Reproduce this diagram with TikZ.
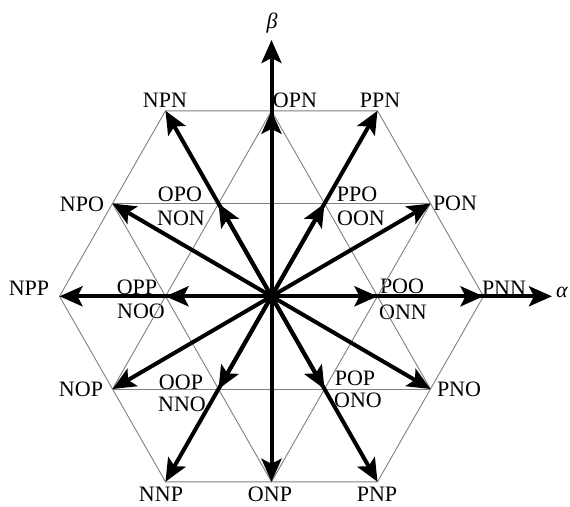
\documentclass[tikz,border=0pt]{standalone}
\usepackage{fontspec}
\setmainfont{Liberation Serif}
\usetikzlibrary{arrows.meta}
\definecolor{gridgray}{RGB}{128,128,128}
\begin{document}
\begin{tikzpicture}[x=1pt,y=-1pt,
  gridline/.style={draw=gridgray, line width=0.9pt},
  vec/.style={line width=4pt, -{Stealth[length=23pt,width=20pt,inset=5pt]}},
  lab/.style={font=\fontsize{22}{22}\selectfont, inner sep=0pt}]
\useasboundingbox (0,0) rectangle (570,506);
% points
\coordinate (O) at (271.5,296.3);
\coordinate (PNN) at (483.5,296.3);
\coordinate (PPN) at (377.5,110.8);
\coordinate (NPN) at (165.5,110.8);
\coordinate (NPP) at (59.5,296.3);
\coordinate (NNP) at (165.5,481.8);
\coordinate (PNP) at (377.5,481.8);
\coordinate (PON) at (430.5,203.55);
\coordinate (OPN) at (271.5,110.8);
\coordinate (NPO) at (112.5,203.55);
\coordinate (NOP) at (112.5,389.05);
\coordinate (ONP) at (271.5,481.8);
\coordinate (PNO) at (430.5,389.05);
\coordinate (POO) at (377.5,296.3);
\coordinate (PPO) at (324.5,203.55);
\coordinate (OPO) at (218.5,203.55);
\coordinate (OPP) at (165.5,296.3);
\coordinate (OOP) at (218.5,389.05);
\coordinate (POP) at (324.5,389.05);
\coordinate (Atip) at (552,296.3);
\coordinate (Btip) at (271.5,40);
% labels
\node[lab] (lb) at (272,23) {\itshape β};
\node[lab] (la) at (562,292) {\itshape α};
\node[lab] (lNPN) at (165,100) {NPN};
\node[lab] (lOPN) at (295,100) {OPN};
\node[lab] (lPPN) at (380,100) {PPN};
\node[lab] (lNPO) at (82,204) {NPO};
\node[lab] (lOPO) at (180,194) {OPO};
\node[lab] (lNON) at (181,218) {NON};
\node[lab] (lPPO) at (357,194) {PPO};
\node[lab] (lOON) at (361,218) {OON};
\node[lab] (lPON) at (455,203) {PON};
\node[lab] (lNPP) at (29,288) {NPP};
\node[lab] (lOPP) at (137,287) {OPP};
\node[lab] (lPOO) at (402,286) {POO};
\node[lab] (lPNN) at (504,288) {PNN};
\node[lab] (lNOO) at (141,311) {NOO};
\node[lab] (lONN) at (403,312) {ONN};
\node[lab] (lNOP) at (81,389) {NOP};
\node[lab] (lOOP) at (181,382) {OOP};
\node[lab] (lNNO) at (182,404) {NNO};
\node[lab] (lPOP) at (355,378) {POP};
\node[lab] (lONO) at (358,400) {ONO};
\node[lab] (lPNO) at (459,389) {PNO};
\node[lab] (lNNP) at (161,494.5) {NNP};
\node[lab] (lONP) at (270,494.5) {ONP};
\node[lab] (lPNP) at (377,494.5) {PNP};
% grid
\draw[gridline] (PNN) -- (PPN) -- (NPN) -- (NPP) -- (NNP) -- (PNP) -- cycle;
\draw[gridline] (NPO) -- (PON);
\draw[gridline] (NOP) -- (PNO);
\draw[gridline] (OPN) -- (PNO);
\draw[gridline] (NPO) -- (ONP);
\draw[gridline] (OPN) -- (NOP);
\draw[gridline] (PON) -- (ONP);
\draw[gridline] (NPP) -- (PNN);
\draw[gridline] (NPN) -- (PNP);
\draw[gridline] (PPN) -- (NNP);
% axes
\draw[vec] (O) -- (Atip);
\draw[vec] (O) -- (Btip);
% vectors
\foreach \p in {PNN,PPN,NPN,NPP,NNP,PNP,PON,OPN,NPO,NOP,ONP,PNO,POO,PPO,OPO,OPP,OOP,POP}
  \draw[vec] (O) -- (\p);
\end{tikzpicture}
\end{document}
